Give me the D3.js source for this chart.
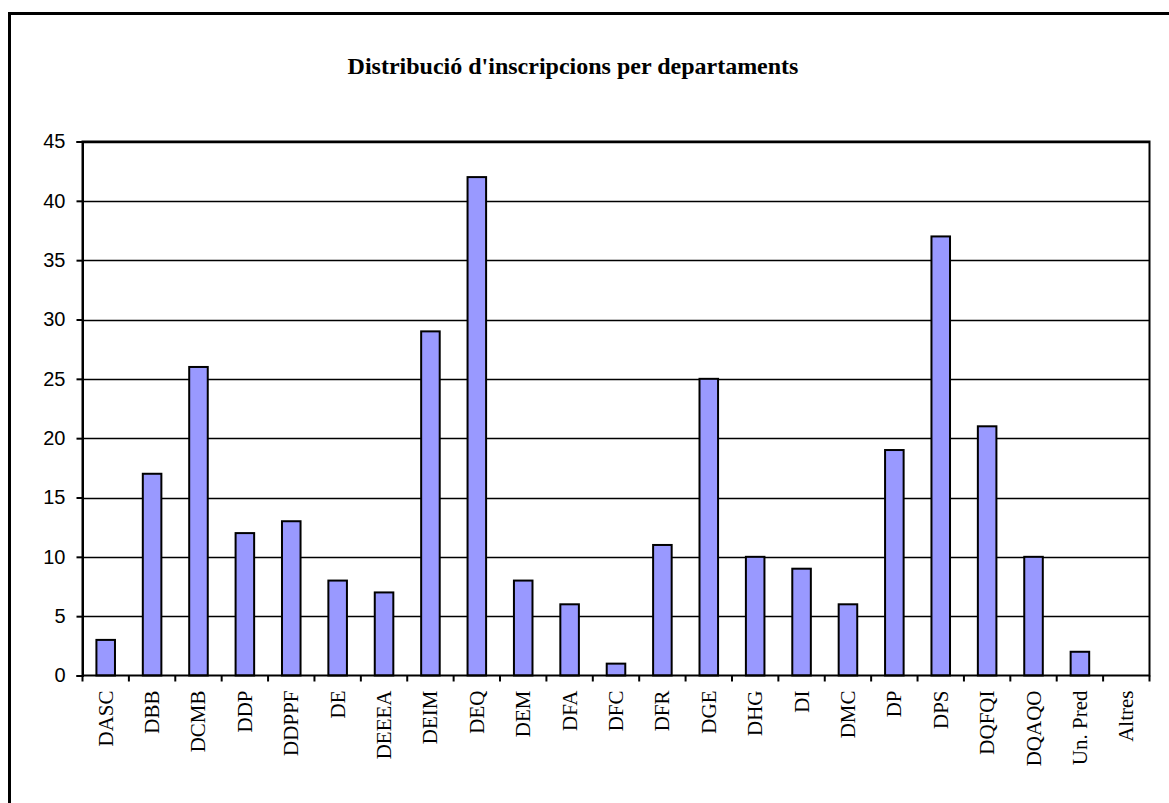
<!DOCTYPE html>
<html>
<head>
<meta charset="utf-8">
<script src="https://cdn.jsdelivr.net/npm/d3@7"></script>
<style>
  body { margin: 0; background: #fff; }
  svg { display: block; }
</style>
</head>
<body>
<svg id="chart" width="1169" height="803"></svg>
<script>
(function () {
  'use strict';

  // Data
  const departments = ['DASC', 'DBB', 'DCMB', 'DDP', 'DDPPF', 'DE', 'DEEEA', 'DEIM', 'DEQ', 'DEM',
    'DFA', 'DFC', 'DFR', 'DGE', 'DHG', 'DI', 'DMC', 'DP', 'DPS', 'DQFQI', 'DQAQO', 'Un. Pred', 'Altres'];
  const inscriptions = [3, 17, 26, 12, 13, 8, 7, 29, 42, 8, 6, 1, 11, 25, 10, 9, 6, 19, 37, 21, 10, 2, 0];
  const yTicks = [0, 5, 10, 15, 20, 25, 30, 35, 40, 45];
  const title = "Distribució d'inscripcions per departaments";

  const svg = d3.select('#chart');
  const left = 82.5, right = 1149.5, top = 141.5, bottom = 675.5;

  // outer frame (only left and top edges visible)
  svg.append('path')
    .attr('d', 'M9.5,803 L9.5,13.5 L1169,13.5')
    .attr('fill', 'none')
    .attr('stroke', '#000')
    .attr('stroke-width', 3);

  svg.append('text')
    .attr('x', 573)
    .attr('y', 74)
    .attr('text-anchor', 'middle')
    .attr('font-family', '"Liberation Serif", "Times New Roman", serif')
    .attr('font-weight', 'bold')
    .attr('font-size', 24)
    .text(title);

  const x = d3.scaleBand().domain(departments).range([left, right]).paddingInner(0).paddingOuter(0);
  const y = d3.scaleLinear().domain([0, 45]).range([bottom, top]);

  // gridlines
  svg.append('g')
    .selectAll('line')
    .data(yTicks.slice(1))
    .join('line')
    .attr('x1', left).attr('x2', right)
    .attr('y1', d => Math.round(y(d)) + 0.5)
    .attr('y2', d => Math.round(y(d)) + 0.5)
    .attr('stroke', '#000')
    .attr('stroke-width', 1.5);

  // bars
  const bw = x.bandwidth() / 2.5;
  svg.append('g')
    .selectAll('rect')
    .data(inscriptions)
    .join('rect')
    .attr('x', (d, i) => x(departments[i]) + (x.bandwidth() - bw) / 2)
    .attr('y', d => y(d))
    .attr('width', bw)
    .attr('height', d => y(0) - y(d))
    .attr('fill', '#9999ff')
    .attr('stroke', d => d > 0 ? '#000' : 'none')
    .attr('stroke-width', 2);

  // plot border
  svg.append('rect')
    .attr('x', left).attr('y', top)
    .attr('width', right - left).attr('height', bottom - top)
    .attr('fill', 'none')
    .attr('stroke', '#000')
    .attr('stroke-width', 2);

  // y axis
  const yAxis = svg.append('g')
    .attr('transform', 'translate(' + left + ',0)')
    .call(d3.axisLeft(y).tickValues(yTicks).tickSize(6).tickPadding(11));
  yAxis.select('.domain').attr('stroke-width', 2);
  yAxis.selectAll('.tick line').attr('stroke-width', 2);
  yAxis.selectAll('text')
    .attr('font-family', '"Liberation Sans", Arial, sans-serif')
    .attr('font-size', 20)
    .attr('fill', '#000');

  // x axis: ticks at band boundaries
  const xAxis = svg.append('g')
    .attr('transform', 'translate(0,' + bottom + ')');
  xAxis.selectAll('line')
    .data(d3.range(departments.length + 1))
    .join('line')
    .attr('x1', i => left + i * x.bandwidth())
    .attr('x2', i => left + i * x.bandwidth())
    .attr('y1', 0).attr('y2', 6)
    .attr('stroke', '#000')
    .attr('stroke-width', 2);

  xAxis.selectAll('text')
    .data(departments)
    .join('text')
    .attr('transform', d => 'translate(' + (x(d) + x.bandwidth() / 2 + 7) + ',15) rotate(-90)')
    .attr('text-anchor', 'end')
    .attr('font-family', '"Liberation Serif", "Times New Roman", serif')
    .attr('font-size', 21)
    .attr('fill', '#000')
    .text(d => d);
}());
</script>
</body>
</html>
